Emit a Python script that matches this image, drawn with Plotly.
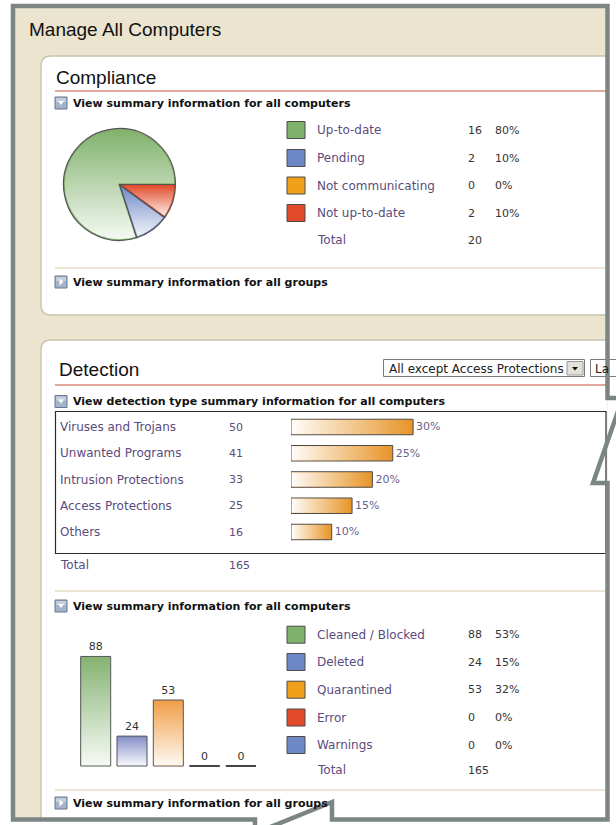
import base64
import struct
import zlib

import numpy as np
import plotly.graph_objects as go

W, H = 616, 825

# ---------------- data ----------------
page_title = "Manage All Computers"

compliance_labels = ["Up-to-date", "Pending", "Not communicating", "Not up-to-date"]
compliance_values = [16, 2, 0, 2]
compliance_pct = [80, 10, 0, 10]
compliance_total = 20
compliance_colors = ["#80b26b", "#6e88c6", "#f0a11c", "#e14a29"]

detection_types = ["Viruses and Trojans", "Unwanted Programs", "Intrusion Protections",
                   "Access Protections", "Others"]
detection_counts = [50, 41, 33, 25, 16]
detection_pct = [30, 25, 20, 15, 10]
detection_total = 165

action_labels = ["Cleaned / Blocked", "Deleted", "Quarantined", "Error", "Warnings"]
action_values = [88, 24, 53, 0, 0]
action_pct = [53, 15, 32, 0, 0]
action_total = 165
action_colors = ["#80b26b", "#6e88c6", "#f0a11c", "#e14a29", "#6e88c6"]
action_bar_colors = ["#86b473", "#8791cb", "#f0a04a", "#e14a29", "#8791cb"]

# ---------------- styles ----------------
SANS = "DejaVu Sans, Verdana, sans-serif"
ARIAL = "Liberation Sans, Arial, sans-serif"
PURPLE = "#5c4b7e"
PURPLE2 = "#6d5f8a"
DARK = "#333333"
BEIGE = "#ebe4cf"
FRAME = "#7b8684"
PANEL_LINE = "#c9c2ae"
RED_LINE = "#d98c78"
SEP = "#e6ddc4"
LABEL_SIZE = 12
NUM_SIZE = 11
VAL_X, PCT_X = 467, 494


def X(x):
    return x / W


def Y(y):
    return 1 - y / H


def P(cmds):
    out = []
    for c in cmds:
        op, nums = c[0], c[1:]
        pts = [f"{X(nums[i]):.5f},{Y(nums[i + 1]):.5f}" for i in range(0, len(nums), 2)]
        out.append(op + " ".join(pts))
    return " ".join(out)


def png_uri(rgba):
    h, w, _ = rgba.shape
    raw = b"".join(b"\x00" + rgba[r].tobytes() for r in range(h))

    def chunk(t, d):
        c = struct.pack(">I", len(d)) + t + d
        return c + struct.pack(">I", zlib.crc32(t + d) & 0xFFFFFFFF)

    png = (b"\x89PNG\r\n\x1a\n"
           + chunk(b"IHDR", struct.pack(">IIBBBBB", w, h, 8, 6, 0, 0, 0))
           + chunk(b"IDAT", zlib.compress(raw, 9))
           + chunk(b"IEND", b""))
    return "data:image/png;base64," + base64.b64encode(png).decode()


def grad_png(n, a_start, a_end, vertical=True):
    a = np.linspace(a_start, a_end, n)
    if vertical:
        rgba = np.zeros((n, 2, 4), dtype=np.uint8)
        rgba[..., :3] = 255
        rgba[..., 3] = np.round(a * 255)[:, None]
    else:
        rgba = np.zeros((2, n, 4), dtype=np.uint8)
        rgba[..., :3] = 255
        rgba[..., 3] = np.round(a * 255)[None, :]
    return png_uri(rgba)


shapes = []
annotations = []
images = []


def rect(x0, y0, x1, y1, fill=None, line=None, lw=1.0, layer="below"):
    shapes.append(dict(type="rect", xref="paper", yref="paper",
                       x0=X(x0), x1=X(x1), y0=Y(y1), y1=Y(y0),
                       fillcolor=fill or "rgba(0,0,0,0)",
                       line=dict(color=line or "rgba(0,0,0,0)", width=lw if line else 0),
                       layer=layer))


def hline(x0, x1, y, color, lw, layer="below"):
    shapes.append(dict(type="line", xref="paper", yref="paper",
                       x0=X(x0), x1=X(x1), y0=Y(y), y1=Y(y),
                       line=dict(color=color, width=lw), layer=layer))


def path(cmds, fill=None, line=None, lw=1.0, layer="below"):
    shapes.append(dict(type="path", xref="paper", yref="paper", path=P(cmds),
                       fillcolor=fill or "rgba(0,0,0,0)",
                       line=dict(color=line or "rgba(0,0,0,0)", width=lw if line else 0),
                       layer=layer))


def T(x, y, s, size=NUM_SIZE, color=DARK, family=SANS, weight="normal", xanchor="left"):
    annotations.append(dict(x=X(x), y=Y(y), xref="paper", yref="paper", text=s,
                            showarrow=False, xanchor=xanchor, yanchor="middle",
                            borderpad=0,
                            font=dict(family=family, size=size, color=color, weight=weight)))


def icon(x, yc, down=True):
    rect(x, yc - 6, x + 12, yc + 6, fill="#a3b3ca", line="#66768f", lw=1)
    rect(x + 1, yc - 5, x + 11, yc - 1, fill="#c3cedd")
    if down:
        path([("M", x + 3, yc - 2), ("L", x + 9, yc - 2), ("L", x + 6, yc + 2), ("Z",)], fill="white")
    else:
        path([("M", x + 4.5, yc - 3.5), ("L", x + 8.5, yc), ("L", x + 4.5, yc + 3.5), ("Z",)], fill="white")


# ---------------- page background / panels ----------------
rect(13, 6, 607.5, 819.5, fill=BEIGE)
comp_panel = [("M", 607, 56), ("L", 51, 56), ("Q", 41, 56, 41, 66), ("L", 41, 305),
              ("Q", 41, 315, 51, 315), ("L", 607, 315)]
path(comp_panel + [("Z",)], fill="white")
path(comp_panel, line=PANEL_LINE, lw=1.3)
det_panel = [("M", 607, 340), ("L", 51, 340), ("Q", 41, 340, 41, 350), ("L", 41, 821)]
path(det_panel + [("L", 607, 821), ("Z",)], fill="white")
path(det_panel, line=PANEL_LINE, lw=1.3)

T(28, 29, page_title, size=19, color="#111111", family=ARIAL)

# ---------------- Compliance ----------------
T(55, 78, "Compliance", size=19, color="#111111", family=ARIAL)
hline(55, 607, 91, RED_LINE, 1.6)
icon(55, 103)
T(72, 103, "View summary information for all computers", color="#111111", weight="bold")

comp_rows = [130, 158, 185.5, 213]
for yc, lab, val, pc, col in zip(comp_rows, compliance_labels, compliance_values,
                                 compliance_pct, compliance_colors):
    rect(287, yc - 8.5, 305, yc + 8.5, fill=col, line="#4a4a4a", lw=1)
    T(316, yc, lab, size=LABEL_SIZE, color=PURPLE)
    T(VAL_X, yc, str(val), color=DARK)
    T(PCT_X, yc, f"{pc}%", color=DARK)
T(316, 240, "Total", size=LABEL_SIZE, color=PURPLE)
T(VAL_X, 240, str(compliance_total), color=DARK)

hline(55, 607, 268, SEP, 1.5)
icon(55, 282, down=False)
T(72, 282, "View summary information for all groups", color="#111111", weight="bold")

# pie
PIE_CX, PIE_CY, PIE_R = 119.5, 184.5, 56.0
ctotal = float(sum(compliance_values))
pie_rotation = (90 - 360.0 * compliance_values[0] / ctotal) % 360


def pie_overlay(values, rotation, R, S=3, amax=0.93):
    N = int(round(2 * R * S))
    c = (np.arange(N) + 0.5) / S - R
    u, v = np.meshgrid(c, c)
    r = np.hypot(u, v)
    theta = np.degrees(np.arctan2(u, -v)) % 360.0
    tot = float(sum(values))
    alpha = np.zeros_like(r)
    cur = rotation + 360.0 * values[0] / tot  # plotly counterclockwise logic
    bounds = [cur]
    for val in values:
        span = 360.0 * val / tot
        lo = cur - span
        if span > 0:
            inside = ((theta - lo) % 360.0) < span
            m = inside & (r <= R)
            vmin, vmax = v[m].min(), v[m].max()
            t = np.clip((v - vmin) / max(vmax - vmin, 1e-6), 0, 1)
            alpha = np.where(inside, amax * t, alpha)
        cur = lo
        bounds.append(cur)
    for b in bounds:
        br = np.radians(b)
        dx, dy = np.sin(br), -np.cos(br)
        proj = u * dx + v * dy
        dist = np.where(proj > 0, np.abs(u * dy - v * dx), r)
        alpha *= np.clip((dist - 0.6) / 0.8, 0, 1)
    alpha *= np.clip((R - 1.0 - r) / 0.7, 0, 1)
    rgba = np.zeros((N, N, 4), dtype=np.uint8)
    rgba[..., :3] = 255
    rgba[..., 3] = np.round(alpha * 255).astype(np.uint8)
    return png_uri(rgba)


images.append(dict(source=pie_overlay(compliance_values, pie_rotation, PIE_R),
                   xref="paper", yref="paper", x=X(PIE_CX - PIE_R), y=Y(PIE_CY - PIE_R),
                   sizex=2 * PIE_R / W, sizey=2 * PIE_R / H, xanchor="left", yanchor="top",
                   sizing="stretch", layer="above"))

# ---------------- Detection ----------------
T(58, 369, "Detection", size=19, color="#111111", family=ARIAL)
rect(383.5, 359.5, 584.5, 376.5, fill="white", line="#7a7a7a", lw=1)
rect(567, 361.5, 583, 375, fill="#e4e1da", line="#9a9a9a", lw=1)
path([("M", 572, 367), ("L", 578, 367), ("L", 575, 370.5), ("Z",)], fill="#111111")
T(388, 368.5, "All except Access Protections", size=LABEL_SIZE, color="#222222")
rect(590.5, 359.5, 640, 376.5, fill="white", line="#7a7a7a", lw=1)
T(594, 368.5, "La", size=LABEL_SIZE, color="#222222")
hline(55, 607, 385, RED_LINE, 1.6)

icon(55, 401.5)
T(72, 401.5, "View detection type summary information for all computers",
  color="#111111", weight="bold")
rect(55.5, 411.5, 606, 553.5, line="#2a2a2a", lw=1.2)

det_rows = [427, 453.25, 479.5, 505.75, 532]
for yc, lab, cnt in zip(det_rows, detection_types, detection_counts):
    T(59, yc, lab, size=LABEL_SIZE, color=PURPLE)
    T(228, yc, str(cnt), color=PURPLE)
T(59, 565, "Total", size=LABEL_SIZE, color=PURPLE)
T(228, 565, str(detection_total), color=PURPLE)

hline(55, 607, 591, SEP, 1.5)
icon(55, 606)
T(72, 606, "View summary information for all computers", color="#111111", weight="bold")

act_rows = [634.7, 662, 689.7, 717.5, 745]
for yc, lab, val, pc, col in zip(act_rows, action_labels, action_values, action_pct, action_colors):
    rect(287, yc - 8.5, 305, yc + 8.5, fill=col, line="#4a4a4a", lw=1)
    T(316, yc, lab, size=LABEL_SIZE, color=PURPLE)
    T(VAL_X, yc, str(val), color=DARK)
    T(PCT_X, yc, f"{pc}%", color=DARK)
T(316, 770, "Total", size=LABEL_SIZE, color=PURPLE)
T(VAL_X, 770, str(action_total), color=DARK)

hline(55, 607, 790, SEP, 1.5)
icon(55, 803, down=False)
T(72, 803, "View summary information for all groups", color="#111111", weight="bold")

# ---------------- frame (callout) ----------------
path([("M", 255, 835), ("L", 255, 819.5), ("L", 13, 819.5), ("L", 13, 6),
      ("L", 607.5, 6), ("L", 607.5, 398), ("L", 640, 398)],
     line=FRAME, lw=4.5, layer="above")
path([("M", 624, 394), ("L", 593, 483), ("L", 607.5, 483), ("L", 607.5, 819.5),
      ("L", 332, 819.5), ("L", 332, 802), ("L", 258, 832)],
     line=FRAME, lw=4.5, layer="above")

# ---------------- axes geometry ----------------
HB_X0, HB_K, HB_MAX = 291.0, 4.07, 60.0
HB_ROW0, HB_STEP = 427.0, 26.25
hb_xdom = [X(HB_X0), X(HB_X0 + HB_K * HB_MAX)]
hb_ytop, hb_ybot = HB_ROW0 - HB_STEP / 2, HB_ROW0 + 4.5 * HB_STEP
hb_ydom = [Y(hb_ybot), Y(hb_ytop)]
HB_W = 15.5 / HB_STEP

VB_C0, VB_STEP = 95.7, 36.3
VB_BASE, VB_K = 766.0, 1.245
VB_LO, VB_HI = -2.0, 100.0
vb_xdom = [X(VB_C0 - VB_STEP / 2), X(VB_C0 + 4.5 * VB_STEP)]
vb_ydom = [Y(VB_BASE - VB_LO * VB_K), Y(VB_BASE - VB_HI * VB_K)]
VB_W = 30.0 / VB_STEP

fig = go.Figure()

fig.add_trace(go.Pie(
    values=compliance_values, labels=compliance_labels, sort=False,
    direction="counterclockwise", rotation=pie_rotation,
    marker=dict(colors=compliance_colors, line=dict(color="#555555", width=1.2)),
    textinfo="none", hoverinfo="skip", showlegend=False,
    domain=dict(x=[X(PIE_CX - PIE_R), X(PIE_CX + PIE_R)], y=[Y(PIE_CY + PIE_R), Y(PIE_CY - PIE_R)]),
))

fig.add_trace(go.Bar(
    x=detection_pct, y=list(range(len(detection_types))), orientation="h",
    xaxis="x2", yaxis="y2", width=HB_W,
    marker=dict(color="#e8962a", line=dict(color="#4a4a4a", width=1)),
    text=[f"{p}%" for p in detection_pct], textposition="outside",
    textfont=dict(family=SANS, size=NUM_SIZE, color=PURPLE2),
    cliponaxis=False, hoverinfo="skip", showlegend=False,
))

fig.add_trace(go.Bar(
    x=list(range(len(action_values))), y=action_values,
    xaxis="x3", yaxis="y3", width=VB_W,
    marker=dict(color=action_bar_colors, line=dict(color="#555555", width=1)),
    text=[str(v) for v in action_values], textposition="outside",
    textfont=dict(family=SANS, size=NUM_SIZE, color=DARK),
    cliponaxis=False, hoverinfo="skip", showlegend=False,
))

vgrad = grad_png(64, 0.0, 0.93, vertical=True)
hgrad = grad_png(64, 0.97, 0.0, vertical=False)
ix, iy = 0.6 / VB_STEP, 0.6 / VB_K
for i, v in enumerate(action_values):
    if v > 0:
        images.append(dict(source=vgrad, xref="x3", yref="y3", x=i - VB_W / 2 + ix, y=v - iy,
                           sizex=VB_W - 2 * ix, sizey=v - 2 * iy, xanchor="left", yanchor="top",
                           sizing="stretch", layer="above"))
    else:
        shapes.append(dict(type="line", xref="x3", yref="y3", x0=i - VB_W / 2, x1=i + VB_W / 2,
                           y0=0, y1=0, line=dict(color="#444444", width=2), layer="above"))
hx, hy = 0.6 / HB_K, 0.6 / HB_STEP
for i, p in enumerate(detection_pct):
    images.append(dict(source=hgrad, xref="x2", yref="y2", x=hx, y=i - HB_W / 2 + hy,
                       sizex=p - 2 * hx, sizey=HB_W - 2 * hy, xanchor="left", yanchor="top",
                       sizing="stretch", layer="above"))

axis_off = dict(visible=False, showgrid=False, zeroline=False, fixedrange=True)
fig.update_layout(
    width=W, height=H, autosize=False,
    margin=dict(l=0, r=0, t=0, b=0),
    paper_bgcolor="white", plot_bgcolor="rgba(0,0,0,0)",
    showlegend=False, hovermode=False,
    xaxis2=dict(domain=hb_xdom, range=[0, HB_MAX], anchor="y2", **axis_off),
    yaxis2=dict(domain=hb_ydom, range=[4.5, -0.5], anchor="x2", **axis_off),
    xaxis3=dict(domain=vb_xdom, range=[-0.5, 4.5], anchor="y3", **axis_off),
    yaxis3=dict(domain=vb_ydom, range=[VB_LO, VB_HI], anchor="x3", **axis_off),
    shapes=shapes, annotations=annotations, images=images,
)

fig.write_html("out.html", config={"displayModeBar": False},
               post_script="document.body.style.margin='0';document.body.style.overflow='hidden';")
